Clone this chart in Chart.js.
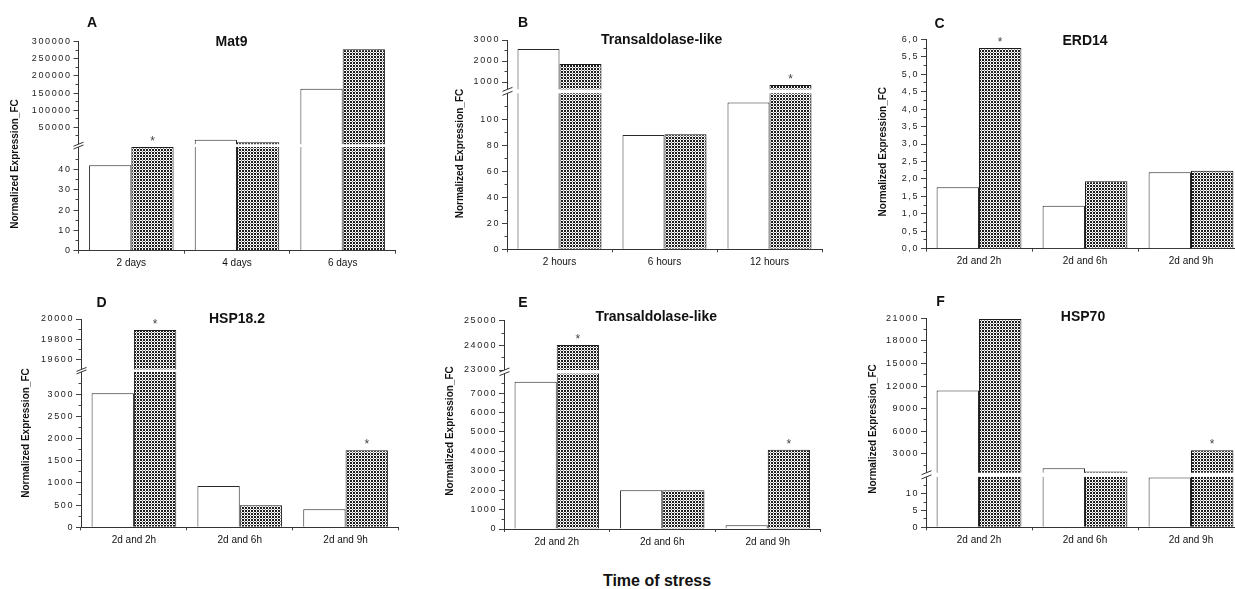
<!DOCTYPE html>
<html>
<head>
<meta charset="utf-8">
<title>Normalized expression under stress</title>
<script src="https://cdn.jsdelivr.net/npm/chart.js@4.4.1/dist/chart.umd.min.js"></script>
<style>
  html, body { margin:0; padding:0; background:#fff; width:1235px; height:589px; overflow:hidden; position:relative; }
  canvas { position:absolute; }
  #xtitle { position:absolute; left:557px; top:573px; width:200px; text-align:center;
            font:bold 16px/16px 'Liberation Sans', Arial, sans-serif; color:#111; }
</style>
</head>
<body>
<canvas id="panelA" width="405" height="275" style="left:0px;top:0px"></canvas>
<canvas id="panelB" width="400" height="275" style="left:430px;top:0px"></canvas>
<canvas id="panelC" width="400" height="275" style="left:860px;top:0px"></canvas>
<canvas id="panelD" width="405" height="280" style="left:0px;top:280px"></canvas>
<canvas id="panelE" width="400" height="280" style="left:430px;top:280px"></canvas>
<canvas id="panelF" width="400" height="280" style="left:860px;top:280px"></canvas>
<div id="xtitle">Time of stress</div>
<script>
const FONT = "'Liberation Sans', Arial, sans-serif";

// ---- A: Mat9 ----
const catsA = ['2 days', '4 days', '6 days'];
const ctrlA = [42, 13800, 163000];
const stressA = [51, 6700, 278000];
const starA = [1, 0, 0];
const majorA = [0, 10, 20, 30, 40, 50000, 100000, 150000, 200000, 250000, 300000];
const minorA = [5, 15, 25, 35, 45, 25000, 75000, 125000, 175000, 225000, 275000];

// ---- B: Transaldolase-like (hours) ----
const catsB = ['2 hours', '6 hours', '12 hours'];
const ctrlB = [2570, 88, 113];
const stressB = [1860, 88.5, 860];
const starB = [0, 0, 1];
const majorB = [0, 20, 40, 60, 80, 100, 1000, 2000, 3000];
const minorB = [10, 30, 50, 70, 90, 110, 1500, 2500];

// ---- C: ERD14 ----
const catsC = ['2d and 2h', '2d and 6h', '2d and 9h'];
const ctrlC = [1.76, 1.23, 2.19];
const stressC = [5.75, 1.93, 2.23];
const starC = [1, 0, 0];
const majorC = [0, 0.5, 1, 1.5, 2, 2.5, 3, 3.5, 4, 4.5, 5, 5.5, 6];
const minorC = [0.25, 0.75, 1.25, 1.75, 2.25, 2.75, 3.25, 3.75, 4.25, 4.75, 5.25, 5.75];

// ---- D: HSP18.2 ----
const catsD = ['2d and 2h', '2d and 6h', '2d and 9h'];
const ctrlD = [3020, 930, 405];
const stressD = [19890, 495, 1735];
const starD = [1, 0, 1];
const majorD = [0, 500, 1000, 1500, 2000, 2500, 3000, 19600, 19800, 20000];
const minorD = [250, 750, 1250, 1750, 2250, 2750, 3250, 19700, 19900];

// ---- E: Transaldolase-like (2 days + hours) ----
const catsE = ['2d and 2h', '2d and 6h', '2d and 9h'];
const ctrlE = [7580, 1990, 190];
const stressE = [24010, 1990, 4080];
const starE = [1, 0, 1];
const majorE = [0, 1000, 2000, 3000, 4000, 5000, 6000, 7000, 23000, 24000, 25000];
const minorE = [500, 1500, 2500, 3500, 4500, 5500, 6500, 7500, 23500, 24500];

// ---- F: HSP70 ----
const catsF = ['2d and 2h', '2d and 6h', '2d and 9h'];
const ctrlF = [11400, 1080, 14.8];
const stressF = [20900, 650, 3470];
const starF = [0, 0, 1];
const majorF = [0, 5, 10, 3000, 6000, 9000, 12000, 15000, 18000, 21000];
const minorF = [2.5, 7.5, 12.5, 1500, 4500, 7500, 10500, 13500, 16500, 19500];

const plain = v => String(v);
const comma = v => v.toFixed(1).replace('.', ',');

// Panel set-up: axis break (value ranges + share of the axis height), canvas box and decorations
const panels = [
  { id:'panelA', letter:'A', title:'Mat9', cats:catsA, ctrl:ctrlA, stress:stressA, star:starA, major:majorA, minor:minorA,
    axis:{ lower:[0, 51], upper:[1000, 300000], split:[0.4962, 0.5096] }, fmt:plain,
    box:[0, 0, 405, 275], plot:[78.5, 395.5, 41.7, 250.7], letterAt:[92, 23], titleAt:[231.5, 41.7], yTitleAt:[15, 164] },
  { id:'panelB', letter:'B', title:'Transaldolase-like', cats:catsB, ctrl:ctrlB, stress:stressB, star:starB, major:majorB, minor:minorB,
    axis:{ lower:[0, 120], upper:[650, 3000], split:[0.7453, 0.7642] }, fmt:plain,
    box:[430, 0, 400, 275], plot:[507, 822, 40, 249.3], letterAt:[523, 23], titleAt:[661.7, 40], yTitleAt:[460, 153.5] },
  { id:'panelC', letter:'C', title:'ERD14', cats:catsC, ctrl:ctrlC, stress:stressC, star:starC, major:majorC, minor:minorC,
    axis:{ lower:[0, 6] }, fmt:comma,
    box:[860, 0, 400, 275], plot:[926, 1244, 39.3, 248.7], letterAt:[939.5, 24.5], titleAt:[1085, 41], yTitleAt:[883.3, 151.7] },
  { id:'panelD', letter:'D', title:'HSP18.2', cats:catsD, ctrl:ctrlD, stress:stressD, star:starD, major:majorD, minor:minorD,
    axis:{ lower:[0, 3500], upper:[19500, 20000], split:[0.7460, 0.7580] }, fmt:plain,
    box:[0, 280, 405, 280], plot:[81, 398.5, 319, 527.3], letterAt:[101.5, 303], titleAt:[237, 319], yTitleAt:[26.7, 433] },
  { id:'panelE', letter:'E', title:'Transaldolase-like', cats:catsE, ctrl:ctrlE, stress:stressE, star:starE, major:majorE, minor:minorE,
    axis:{ lower:[0, 8000], upper:[23000, 25000], split:[0.7460, 0.7633] }, fmt:plain,
    box:[430, 280, 400, 280], plot:[504, 820.5, 320.7, 529], letterAt:[523, 303], titleAt:[656.3, 317.5], yTitleAt:[450, 431] },
  { id:'panelF', letter:'F', title:'HSP70', cats:catsF, ctrl:ctrlF, stress:stressF, star:starF, major:majorF, minor:minorF,
    axis:{ lower:[0, 15], upper:[500, 21000], split:[0.2411, 0.2612] }, fmt:plain,
    box:[860, 280, 400, 280], plot:[926, 1244, 318.3, 527.3], letterAt:[940.5, 302], titleAt:[1083, 316.7], yTitleAt:[873.3, 429] }
];

// Linear value axis with an optional break: a lower and an upper range stacked on one axis
const BREAKS = new Map();
class BrokenLinearScale extends Chart.LinearScale {
  get brk() { return BREAKS.get(this.chart.canvas.id); }
  determineDataLimits() {
    const b = this.brk;
    this.min = b.lower[0];
    this.max = b.upper ? b.upper[1] : b.lower[1];
  }
  buildTicks() {
    return this.brk.major.map(v => ({ value: v }));
  }
  fractionFor(v) {
    const b = this.brk;
    const [l0, l1] = b.lower;
    if (!b.upper) return (v - l0) / (l1 - l0);
    const [u0, u1] = b.upper;
    const [s0, s1] = b.split;
    if (v <= l1) return (v - l0) / (l1 - l0) * s0;
    if (v < u0) return s0 + (s1 - s0) * (v - l1) / (u0 - l1);
    return s1 + (v - u0) / (u1 - u0) * (1 - s1);
  }
  getPixelForValue(v) {
    return this.bottom - this.fractionFor(v) * (this.bottom - this.top);
  }
  getValueForPixel(p) {
    const b = this.brk;
    const f = (this.bottom - p) / (this.bottom - this.top);
    const [l0, l1] = b.lower;
    if (!b.upper) return l0 + f * (l1 - l0);
    const [u0, u1] = b.upper;
    const [s0, s1] = b.split;
    if (f <= s0) return l0 + f / s0 * (l1 - l0);
    if (f < s1) return l1 + (f - s0) / (s1 - s0) * (u0 - l1);
    return u0 + (f - s1) / (1 - s1) * (u1 - u0);
  }
  drawLabels(area) {
    const ctx = this.ctx;
    ctx.save();
    ctx.letterSpacing = '1.6px';
    super.drawLabels(area);
    ctx.restore();
  }
}
BrokenLinearScale.id = 'brokenLinear';
BrokenLinearScale.defaults = Chart.LinearScale.defaults;
Chart.register(BrokenLinearScale);

// Dense cross-hatched fill for the stressed series
function makeHatch() {
  const tile = ['DWD', 'WGW', 'DWD'];
  const colours = { D: '#1e1e1e', W: '#ffffff', G: '#8c8c8c' };
  const c = document.createElement('canvas');
  c.width = 3; c.height = 3;
  const g = c.getContext('2d');
  tile.forEach((row, y) => {
    [...row].forEach((k, x) => {
      g.fillStyle = colours[k];
      g.fillRect(x, y, 1, 1);
    });
  });
  return g.createPattern(c, 'repeat');
}
const hatch = makeHatch();

// Break band, minor ticks, significance stars and panel texts
function decor(p) {
  return {
    id: 'decor',
    afterDraw(chart) {
      const ctx = chart.ctx;
      const area = chart.chartArea;
      const ys = chart.scales.y;
      const b = BREAKS.get(chart.canvas.id);
      const ox = p.box[0], oy = p.box[1];
      const axX = Math.round(area.left - 0.5) + 0.5;
      ctx.save();

      // minor ticks
      ctx.strokeStyle = '#444';
      ctx.lineWidth = 1;
      ctx.beginPath();
      for (const v of p.minor) {
        const py = Math.round(ys.getPixelForValue(v) - 0.5) + 0.5;
        ctx.moveTo(axX - 3, py);
        ctx.lineTo(axX, py);
      }
      ctx.stroke();

      // axis break
      if (b.upper) {
        const gTop = ys.getPixelForValue(b.upper[0]);
        const gBot = ys.getPixelForValue(b.lower[1]);
        ctx.fillStyle = '#ffffff';
        ctx.fillRect(axX - 1, gTop, area.right - axX + 3, gBot - gTop);
        ctx.strokeStyle = '#333';
        ctx.beginPath();
        for (const yy of [gTop, gBot]) {
          ctx.moveTo(axX - 5, yy + 2);
          ctx.lineTo(axX + 5, yy - 2);
        }
        ctx.stroke();
      }

      // significance stars
      const meta = chart.getDatasetMeta(1);
      ctx.fillStyle = '#444';
      ctx.font = '12px ' + FONT;
      ctx.textAlign = 'center';
      ctx.textBaseline = 'alphabetic';
      p.star.forEach((s, i) => {
        if (!s) return;
        const bar = meta.data[i];
        ctx.fillText('*', bar.x, bar.y - 2);
      });

      // panel letter and title
      ctx.fillStyle = '#111';
      ctx.textBaseline = 'middle';
      ctx.font = 'bold 14px ' + FONT;
      ctx.fillText(p.letter, p.letterAt[0] - ox, p.letterAt[1] - oy);
      ctx.fillText(p.title, p.titleAt[0] - ox, p.titleAt[1] - oy);

      // value axis title
      ctx.translate(p.yTitleAt[0] - ox, p.yTitleAt[1] - oy);
      ctx.rotate(-Math.PI / 2);
      ctx.font = 'bold 10px ' + FONT;
      ctx.fillText('Normalized Expression_FC', 0, 0);
      ctx.restore();
    }
  };
}

for (const p of panels) {
  BREAKS.set(p.id, Object.assign({ major: p.major }, p.axis));
  const [bx, by, bw, bh] = p.box;
  const [L, R, T, B] = p.plot;
  new Chart(document.getElementById(p.id), {
    type: 'bar',
    data: {
      labels: p.cats,
      datasets: [
        { label: 'Control', data: p.ctrl, backgroundColor: '#ffffff', borderColor: '#2a2a2a', borderWidth: 1,
          categoryPercentage: 0.8, barPercentage: 1.0 },
        { label: 'Stress', data: p.stress, backgroundColor: hatch, borderColor: '#1a1a1a', borderWidth: 1,
          categoryPercentage: 0.8, barPercentage: 1.0 }
      ]
    },
    options: {
      responsive: false,
      animation: false,
      devicePixelRatio: 1,
      layout: { padding: { left: 0, right: bx + bw - R, top: T - by, bottom: 0 } },
      plugins: { legend: { display: false }, tooltip: { enabled: false }, title: { display: false } },
      scales: {
        x: {
          type: 'category',
          offset: true,
          grid: { display: true, drawOnChartArea: false, offset: true, tickLength: 3, color: '#444', lineWidth: 1 },
          border: { display: true, color: '#333', width: 1 },
          ticks: { font: { family: FONT, size: 10 }, color: '#111', padding: 4, maxRotation: 0, autoSkip: false },
          afterFit: s => { s.height = by + bh - B; }
        },
        y: {
          type: 'brokenLinear',
          grid: { display: true, drawOnChartArea: false, tickLength: 5, color: '#444', lineWidth: 1 },
          border: { display: true, color: '#333', width: 1 },
          ticks: { font: { family: FONT, size: 9 }, color: '#222', padding: 2, autoSkip: false, callback: p.fmt },
          afterFit: s => { s.width = L - bx; }
        }
      }
    },
    plugins: [decor(p)]
  });
}
</script>
</body>
</html>
